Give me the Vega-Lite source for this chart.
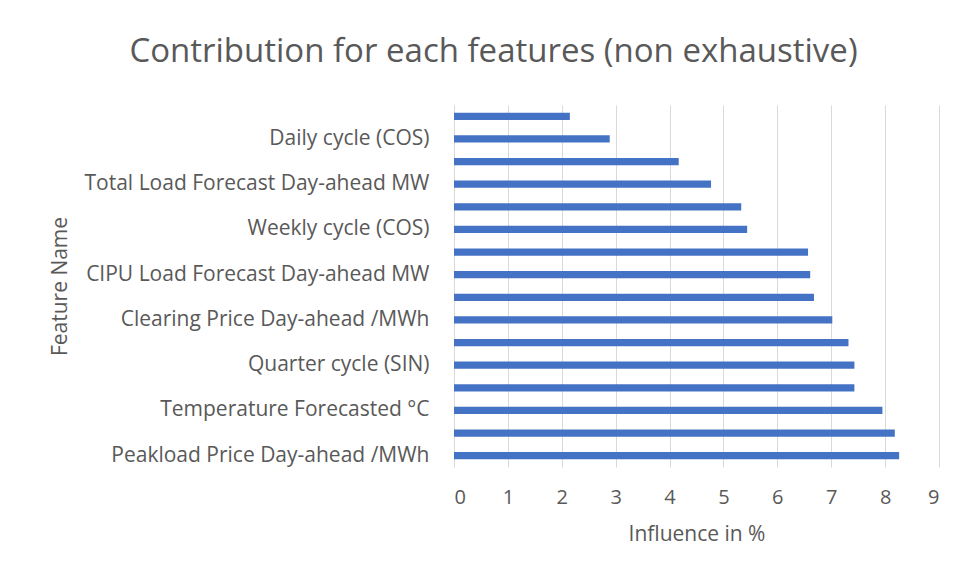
{
  "$schema": "https://vega.github.io/schema/vega-lite/v6.json",
  "width": 485,
  "height": 362,
  "autosize": {"type": "none"},
  "padding": {"left": 454, "top": 105, "right": 26, "bottom": 118},
  "background": "white",
  "title": {
    "text": "Contribution for each features (non exhaustive)",
    "font": "Open Sans",
    "fontSize": 33,
    "fontWeight": 400,
    "color": "#595959",
    "anchor": "middle",
    "dx": -203,
    "offset": 36
  },
  "data": {
    "values": [
      {"feature": "Daily cycle (SIN)", "influence": 2.15},
      {"feature": "Daily cycle (COS)", "influence": 2.89},
      {"feature": "Quarter cycle (COS)", "influence": 4.17},
      {"feature": "Total Load Forecast Day-ahead MW", "influence": 4.77},
      {"feature": "Weekly cycle (SIN)", "influence": 5.33},
      {"feature": "Weekly cycle (COS)", "influence": 5.44},
      {"feature": "Wind Forecast Day-ahead MW", "influence": 6.57},
      {"feature": "CIPU Load Forecast Day-ahead MW", "influence": 6.61},
      {"feature": "Solar Forecast Day-ahead MW", "influence": 6.68},
      {"feature": "Clearing Price Day-ahead /MWh", "influence": 7.02},
      {"feature": "Hour of day", "influence": 7.32},
      {"feature": "Quarter cycle (SIN)", "influence": 7.43},
      {"feature": "Day of week", "influence": 7.43},
      {"feature": "Temperature Forecasted °C", "influence": 7.95},
      {"feature": "Baseload Price Day-ahead /MWh", "influence": 8.18},
      {"feature": "Peakload Price Day-ahead /MWh", "influence": 8.26}
    ]
  },
  "mark": {"type": "bar", "color": "#4472C4"},
  "encoding": {
    "y": {
      "field": "feature",
      "type": "nominal",
      "sort": null,
      "scale": {"paddingInner": 0.68, "paddingOuter": 0.34},
      "axis": {
        "title": "Feature Name",
        "titleFont": "Open Sans",
        "titleFontSize": 21,
        "titleFontWeight": 400,
        "titleColor": "#595959",
        "titleX": -394,
        "titleY": 181,
        "titleAngle": -90,
        "titleAlign": "center",
        "titleBaseline": "middle",
        "labelFont": "Open Sans",
        "labelFontSize": 21,
        "labelColor": "#595959",
        "labelPadding": 25,
        "labelExpr": "indexof(['Daily cycle (SIN)','Quarter cycle (COS)','Weekly cycle (SIN)','Wind Forecast Day-ahead MW','Solar Forecast Day-ahead MW','Hour of day','Day of week','Baseload Price Day-ahead /MWh'], datum.value) >= 0 ? '' : datum.value",
        "ticks": false,
        "domain": true,
        "domainColor": "#D9D9D9",
        "domainWidth": 1,
        "grid": false,
        "labelLimit": 500
      }
    },
    "x": {
      "field": "influence",
      "type": "quantitative",
      "scale": {"domain": [0, 9], "nice": false},
      "axis": {
        "title": "Influence in %",
        "titleFont": "Open Sans",
        "titleFontSize": 21,
        "titleFontWeight": 400,
        "titleColor": "#595959",
        "titlePadding": 16,
        "values": [0, 1, 2, 3, 4, 5, 6, 7, 8, 9],
        "labelFont": "Open Sans",
        "labelFontSize": 20,
        "labelColor": "#595959",
        "labelPadding": 20,
        "ticks": false,
        "domain": false,
        "grid": true,
        "gridColor": "#D9D9D9",
        "gridWidth": 1
      }
    }
  },
  "config": {"view": {"stroke": null}}
}
